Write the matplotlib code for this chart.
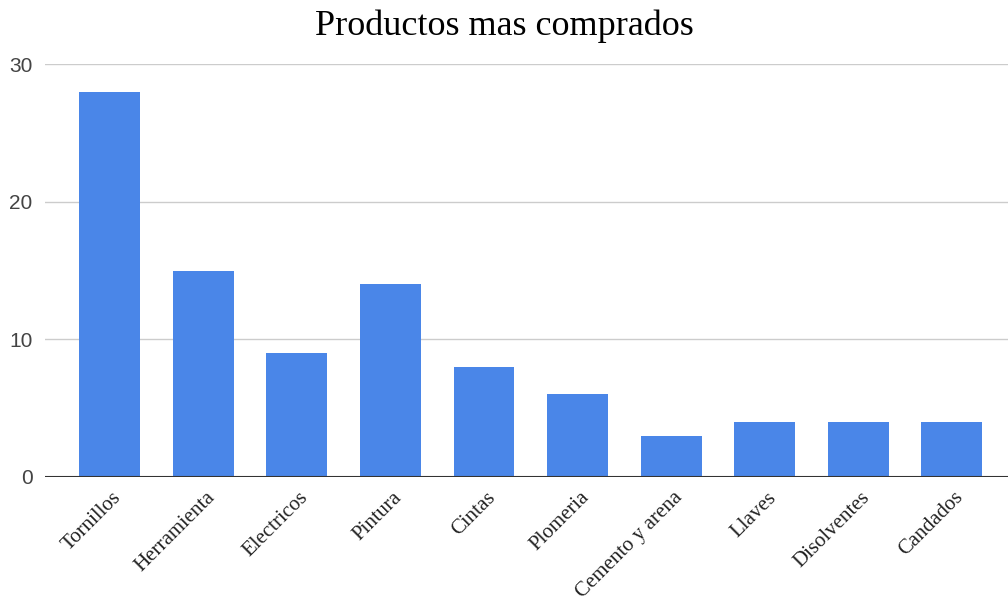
import matplotlib.pyplot as plt
import matplotlib.transforms as mtransforms
import numpy as np

productos = ['Tornillos', 'Herramienta', 'Electricos', 'Pintura', 'Cintas',
             'Plomeria', 'Cemento y arena', 'Llaves', 'Disolventes', 'Candados']
cantidades = [28, 15, 9, 14, 8, 6, 3, 4, 4, 4]

fig = plt.figure(figsize=(10.08, 6.04), dpi=100)
ax = fig.add_axes([45/1008, 127/604, 963/1008, 413/604])

x = np.arange(len(productos))
ax.bar(x, cantidades, width=0.65, color='#4a86e8', linewidth=0, zorder=2)

ax.set_xlim(-0.69, 9.6)
ax.set_ylim(0, 30)
ax.set_yticks([0, 10, 20, 30])
ax.yaxis.grid(True, color='#cccccc', linewidth=1, zorder=0)
ax.axhline(0, color='#333333', linewidth=1.5, zorder=3)

for s in ax.spines.values():
    s.set_visible(False)
ax.tick_params(axis='both', length=0)
ax.tick_params(axis='y', labelsize=15, labelcolor='#444444', pad=9)

ax.set_xticks(x)
ax.set_xticklabels(productos, rotation=45, ha='right', va='top',
                   rotation_mode='anchor', fontsize=15,
                   family='Liberation Serif', color='#222222')
ax.tick_params(axis='x', pad=8)
# nudge labels a little to the right
shift = mtransforms.ScaledTranslation(2/100, 0, fig.dpi_scale_trans)
for lab in ax.get_xticklabels():
    lab.set_transform(lab.get_transform() + shift)
for lab in ax.get_yticklabels():
    lab.set_family('Liberation Sans')

fig.text(0.5, 0.957, 'Productos mas comprados', ha='center', va='center',
         fontsize=26, family='Liberation Serif', color='#000000')

fig.savefig('out.png', dpi=100)
